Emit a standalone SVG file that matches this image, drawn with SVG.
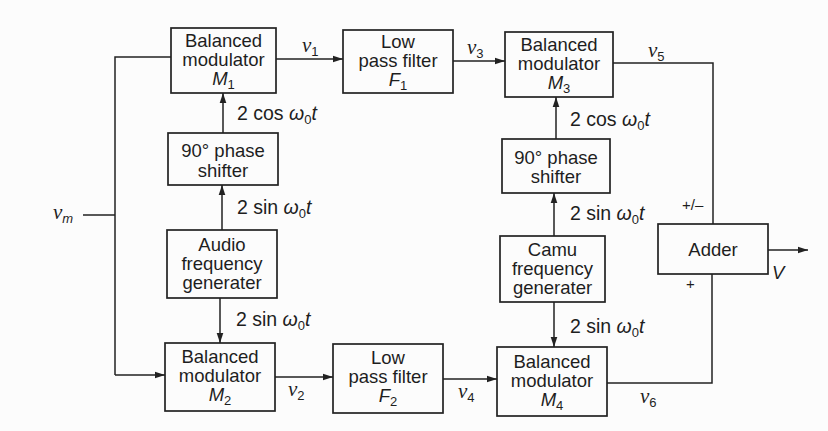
<svg xmlns="http://www.w3.org/2000/svg" width="828" height="431" viewBox="0 0 828 431">
<defs>
<marker id="ah" markerUnits="userSpaceOnUse" markerWidth="10" markerHeight="8" refX="10" refY="4" orient="auto"><path d="M0,0.7 L10,4 L0,7.3 z" fill="#222"/></marker>
</defs>
<style>
.box{fill:none;stroke:#222;stroke-width:1.7}
.ln{fill:none;stroke:#222;stroke-width:1.5}
.arr{marker-end:url(#ah)}
text{font-family:"Liberation Sans",Arial,sans-serif;font-size:18.5px;fill:#1e1e1e}
.c{text-anchor:middle}
.it{font-style:italic}
.lb{font-size:19.5px}
.v{font-family:"Liberation Serif","Times New Roman",serif;font-style:italic;font-size:21px}
.sub{font-family:"Liberation Sans",Arial,sans-serif;font-size:13px;font-style:normal}
.subi{font-family:"Liberation Sans",Arial,sans-serif;font-size:13px;font-style:italic}
.sm{font-size:15px}
</style>
<rect width="828" height="431" fill="#fcfcfc"/>

<g id="M1"><rect class="box" x="171" y="28" width="105" height="65"/>
<text class="c"><tspan x="223.5" y="47">Balanced</tspan><tspan x="223.5" y="66">modulator</tspan><tspan x="223.5" y="85"><tspan class="it">M</tspan><tspan class="sub" dy="4">1</tspan></tspan></text></g>

<g id="F1"><rect class="box" x="343" y="30" width="110" height="63"/>
<text class="c"><tspan x="398" y="48">Low</tspan><tspan x="398" y="67">pass filter</tspan><tspan x="398" y="86"><tspan class="it">F</tspan><tspan class="sub" dy="4">1</tspan></tspan></text></g>

<g id="M3"><rect class="box" x="505" y="32" width="108" height="65"/>
<text class="c"><tspan x="559" y="51">Balanced</tspan><tspan x="559" y="70">modulator</tspan><tspan x="559" y="89"><tspan class="it">M</tspan><tspan class="sub" dy="4">3</tspan></tspan></text></g>

<g id="PS1"><rect class="box" x="168" y="133" width="110" height="52"/>
<text class="c"><tspan x="223" y="157">90° phase</tspan><tspan x="223" y="177">shifter</tspan></text></g>

<g id="AFG"><rect class="box" x="167" y="230" width="110" height="68"/>
<text class="c"><tspan x="222" y="251">Audio</tspan><tspan x="222" y="270">frequency</tspan><tspan x="222" y="289">generater</tspan></text></g>

<g id="M2"><rect class="box" x="165" y="343" width="110" height="68"/>
<text class="c"><tspan x="220" y="363">Balanced</tspan><tspan x="220" y="382">modulator</tspan><tspan x="220" y="401"><tspan class="it">M</tspan><tspan class="sub" dy="4">2</tspan></tspan></text></g>

<g id="F2"><rect class="box" x="333" y="344" width="110" height="69"/>
<text class="c"><tspan x="388" y="364">Low</tspan><tspan x="388" y="383">pass filter</tspan><tspan x="388" y="402"><tspan class="it">F</tspan><tspan class="sub" dy="4">2</tspan></tspan></text></g>

<g id="PS2"><rect class="box" x="502" y="139" width="108" height="54"/>
<text class="c"><tspan x="556" y="164">90° phase</tspan><tspan x="556" y="183">shifter</tspan></text></g>

<g id="CFG"><rect class="box" x="500" y="236" width="105" height="66"/>
<text class="c"><tspan x="552.5" y="256">Camu</tspan><tspan x="552.5" y="275">frequency</tspan><tspan x="552.5" y="294">generater</tspan></text></g>

<g id="M4"><rect class="box" x="497" y="347" width="110" height="69"/>
<text class="c"><tspan x="552" y="368">Balanced</tspan><tspan x="552" y="387">modulator</tspan><tspan x="552" y="406"><tspan class="it">M</tspan><tspan class="sub" dy="4">4</tspan></tspan></text></g>

<g id="ADD"><rect class="box" x="658" y="224" width="110" height="50"/>
<text class="c" x="713" y="256">Adder</text></g>

<g id="connectors">
<path class="ln" d="M83,215 H115"/>
<path class="ln" d="M171,57 H115 V375"/>
<path class="ln arr" d="M115,375 H165"/>
<path class="ln arr" d="M276,59 H343"/>
<path class="ln arr" d="M453,61 H505"/>
<path class="ln" d="M613,63 H713 V224"/>
<path class="ln arr" d="M223,133 V93"/>
<path class="ln arr" d="M222,230 V185"/>
<path class="ln arr" d="M220,298 V343"/>
<path class="ln arr" d="M275,377 H333"/>
<path class="ln arr" d="M443,379 H497"/>
<path class="ln" d="M607,383 H712 V274"/>
<path class="ln arr" d="M556,139 V97"/>
<path class="ln arr" d="M554,236 V193"/>
<path class="ln arr" d="M554,302 V347"/>
<path class="ln arr" d="M768,250 H808"/>
</g>

<g id="labels">
<text x="53" y="219"><tspan class="v">v</tspan><tspan class="subi" dy="4">m</tspan></text>
<text x="302" y="52"><tspan class="v">v</tspan><tspan class="sub" dy="4">1</tspan></text>
<text x="467" y="54"><tspan class="v">v</tspan><tspan class="sub" dy="4">3</tspan></text>
<text x="648" y="57"><tspan class="v">v</tspan><tspan class="sub" dy="4">5</tspan></text>
<text x="288" y="396"><tspan class="v">v</tspan><tspan class="sub" dy="4">2</tspan></text>
<text x="458" y="398"><tspan class="v">v</tspan><tspan class="sub" dy="4">4</tspan></text>
<text x="640" y="403"><tspan class="v">v</tspan><tspan class="sub" dy="4">6</tspan></text>
<text class="lb" x="237" y="120">2 cos <tspan class="it">ω</tspan><tspan class="sub" dy="4">0</tspan><tspan class="it" dy="-4">t</tspan></text>
<text class="lb" x="237" y="214">2 sin <tspan class="it">ω</tspan><tspan class="sub" dy="4">0</tspan><tspan class="it" dy="-4">t</tspan></text>
<text class="lb" x="236" y="326">2 sin <tspan class="it">ω</tspan><tspan class="sub" dy="4">0</tspan><tspan class="it" dy="-4">t</tspan></text>
<text class="lb" x="570" y="126">2 cos <tspan class="it">ω</tspan><tspan class="sub" dy="4">0</tspan><tspan class="it" dy="-4">t</tspan></text>
<text class="lb" x="570" y="220">2 sin <tspan class="it">ω</tspan><tspan class="sub" dy="4">0</tspan><tspan class="it" dy="-4">t</tspan></text>
<text class="lb" x="570" y="333">2 sin <tspan class="it">ω</tspan><tspan class="sub" dy="4">0</tspan><tspan class="it" dy="-4">t</tspan></text>
<text class="sm" x="682" y="210">+/–</text>
<text class="sm" x="686" y="289">+</text>
<text class="it" x="772" y="279">V</text>
</g>
</svg>
